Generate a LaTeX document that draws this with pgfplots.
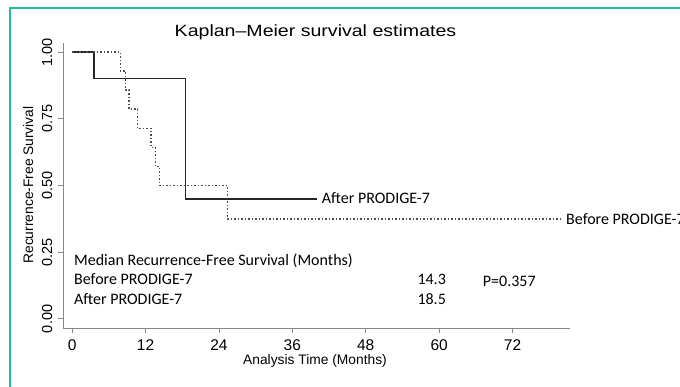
\documentclass[border=0pt]{standalone}
\usepackage{fontspec}
\setmainfont{Liberation Sans}
\newfontfamily\calib{Carlito}
\usepackage{pgfplots}
\pgfplotsset{compat=1.18}
\definecolor{framecol}{RGB}{30,190,160}
\definecolor{axgray}{RGB}{135,135,135}

\pgfplotstableread{
t s
0 1
3.6 0.9
18.5 0.45
40 0.45
}\after

\pgfplotstableread{
t s
0 1
7.9 0.929
8.7 0.857
9.3 0.786
10.7 0.714
12.9 0.643
13.6 0.571
14.3 0.5
25.4 0.375
80 0.375
}\before

\begin{document}
\begin{tikzpicture}
\fill[white] (0,0) rectangle (680pt,-387pt);
\draw[framecol, line width=1.6pt] (10pt,-387pt) -- (10pt,-8pt) -- (680pt,-8pt);
\begin{axis}[
  at={(63pt,-328pt)}, anchor=south west,
  scale only axis, width=507pt, height=285pt,
  xmin=-1.5, xmax=81.4, ymin=-0.034, ymax=1.034,
  axis lines=left,
  axis line style={-, axgray, line width=1pt},
  xtick={0,12,24,36,48,60,72},
  ytick={0,0.25,0.5,0.75,1},
  tick align=outside, major tick length=5pt,
  tick style={axgray, line width=0.9pt},
  /pgf/number format/assume math mode=true,
  xticklabel style={font=\fontsize{15.5}{17}\selectfont, inner sep=0pt, anchor=north, yshift=-6pt},
  yticklabel style={font=\fontsize{14.5}{17}\selectfont, inner sep=0pt, xshift=-5.5pt, rotate=90, anchor=south,
     /pgf/number format/.cd, fixed, fixed zerofill, precision=2},
  clip=false,
]
\addplot[const plot, black!85, line width=1.4pt] table[x=t,y=s] {\after};
\addplot[const plot, black!70, line width=1.5pt, dash pattern=on 1.5pt off 2pt] table[x=t,y=s] {\before};
\end{axis}
% titles and labels
\node[anchor=base, inner sep=0pt, xscale=1.2, font=\fontsize{16.3}{18}\selectfont] at (315.5pt,-36.7pt) {Kaplan--Meier survival estimates};
\node[anchor=base, inner sep=0pt, font=\fontsize{13.8}{16}\selectfont] at (315pt,-364pt) {Analysis Time (Months)};
\node[anchor=base, inner sep=0pt, rotate=90, font=\fontsize{13.8}{16}\selectfont] at (33pt,-185pt) {Recurrence-Free Survival};
% annotations
\begin{scope}[every node/.style={inner sep=0pt, font=\calib\fontsize{16}{18}\selectfont}]
\node[anchor=base west] at (74pt,-266pt) {Median Recurrence-Free Survival (Months)};
\node[anchor=base west] at (74pt,-285pt) {Before PRODIGE-7};
\node[anchor=base west] at (74pt,-304.3pt) {After PRODIGE-7};
\node[anchor=base west] at (417.3pt,-285pt) {14.3};
\node[anchor=base west] at (417.3pt,-304.3pt) {18.5};
\node[anchor=base west] at (482.7pt,-286.7pt) {P=0.357};
\node[anchor=base west] at (321.7pt,-203.5pt) {After PRODIGE-7};
\node[anchor=base west] at (566pt,-224.3pt) {Before PRODIGE-7};
\end{scope}
\pgfresetboundingbox
\useasboundingbox (0,0) rectangle (680pt,-387pt);
\end{tikzpicture}
\end{document}
